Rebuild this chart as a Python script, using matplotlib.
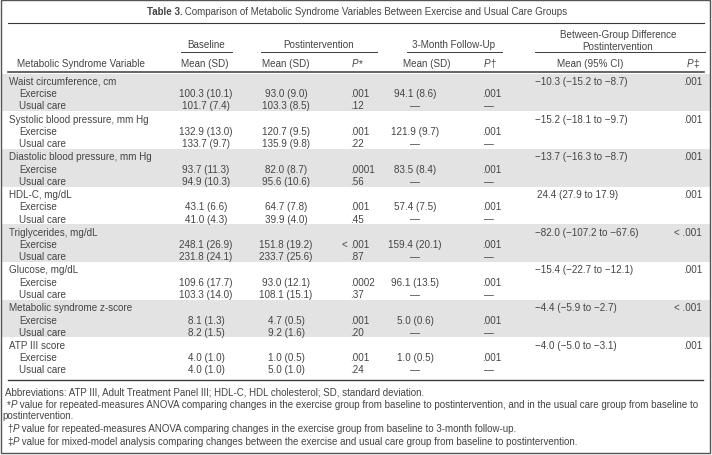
import matplotlib
matplotlib.use("Agg")
import matplotlib.pyplot as plt
from matplotlib import font_manager
from matplotlib.patches import Rectangle


# table data
variables = [
    "Waist circumference, cm",
    "Systolic blood pressure, mm Hg",
    "Diastolic blood pressure, mm Hg",
    "HDL-C, mg/dL",
    "Triglycerides, mg/dL",
    "Glucose, mg/dL",
    "Metabolic syndrome z-score",
    "ATP III score",
]
groups = ["Exercise", "Usual care"]

base_ex_mean = [100.3, 132.9, 93.7, 43.1, 248.1, 109.6, 8.1, 4.0]
base_ex_sd = [10.1, 13.0, 11.3, 6.6, 26.9, 17.7, 1.3, 1.0]
base_uc_mean = [101.7, 133.7, 94.9, 41.0, 231.8, 103.3, 8.2, 4.0]
base_uc_sd = [7.4, 9.7, 10.3, 4.3, 24.1, 14.0, 1.5, 1.0]

post_ex_mean = [93.0, 120.7, 82.0, 64.7, 151.8, 93.0, 4.7, 1.0]
post_ex_sd = [9.0, 9.5, 8.7, 7.8, 19.2, 12.1, 0.5, 0.5]
post_uc_mean = [103.3, 135.9, 95.6, 39.9, 233.7, 108.1, 9.2, 5.0]
post_uc_sd = [8.5, 9.8, 10.6, 4.0, 25.6, 15.1, 1.6, 1.0]
p_post_ex = [".001", ".001", ".0001", ".001", "< .001", ".0002", ".001", ".001"]
p_post_uc = [".12", ".22", ".56", ".45", ".87", ".37", ".20", ".24"]

fu_ex_mean = [94.1, 121.9, 83.5, 57.4, 159.4, 96.1, 5.0, 1.0]
fu_ex_sd = [8.6, 9.7, 8.4, 7.5, 20.1, 13.5, 0.6, 0.5]
p_fu_ex = [".001"] * 8

diff_mean = [-10.3, -15.2, -13.7, 24.4, -82.0, -15.4, -4.4, -4.0]
diff_lo = [-15.2, -18.1, -16.3, 27.9, -107.2, -22.7, -5.9, -5.0]
diff_hi = [-8.7, -9.7, -8.7, 17.9, -67.6, -12.1, -2.7, -3.1]
p_diff = [".001", ".001", ".001", ".001", "< .001", ".001", "< .001", ".001"]

title_bold = "Table 3."
title_rest = " Comparison of Metabolic Syndrome Variables Between Exercise and Usual Care Groups"
footnotes = [
    ("", "Abbreviations: ATP III, Adult Treatment Panel III; HDL-C, HDL cholesterol; SD, standard deviation."),
    ("*", " value for repeated-measures ANOVA comparing changes in the exercise group from baseline to "
          "postintervention, and in the usual care group from baseline to"),
    (None, "postintervention."),
    ("\u2020", " value for repeated-measures ANOVA comparing changes in the exercise group from baseline to "
               "3-month follow-up."),
    ("\u2021", " value for mixed-model analysis comparing changes between the exercise and usual care group "
               "from baseline to postintervention."),
]

plt.rcParams["font.family"] = ["Liberation Sans", "DejaVu Sans"]
names = {f.name for f in font_manager.fontManager.ttflist}
foot_family = ["Liberation Sans Narrow" if "Liberation Sans Narrow" in names else "Liberation Sans",
               "DejaVu Sans"]

TXT = "#444444"
LINE = "#3a3a3a"
BAND = "#e3e3e3"

fig = plt.figure(figsize=(7.12, 4.56), dpi=100)
ax = fig.add_axes([0, 0, 1, 1])
ax.set_xlim(0, 712)
ax.set_ylim(456, 0)
ax.axis("off")
renderer = fig.canvas.get_renderer()


def width(s, size, **kw):
    t = ax.text(0, 0, s + "|", fontsize=size, **kw)
    w1 = t.get_window_extent(renderer).width
    t.remove()
    t = ax.text(0, 0, "|", fontsize=size, **kw)
    w2 = t.get_window_extent(renderer).width
    t.remove()
    return w1 - w2


def fit(s, target, **kw):
    return 7 * target / width(s, 7, **kw)


def runs(x, y, parts, size, ha="left", **kw):
    ws = [width(s, size, **st, **kw) for s, st in parts]
    if ha == "center":
        x -= sum(ws) / 2
    elif ha == "right":
        x -= sum(ws)
    for (s, st), w in zip(parts, ws):
        ax.text(x, y, s, fontsize=size, va="center", ha="left", color=TXT, **st, **kw)
        x += w


def fmt(m, s):
    return f"{m:.1f} ({s:.1f})"


def neg(v):
    return f"{v:.1f}".replace("-", "\u2212")


def pval(x, y, p, size):
    # p values line up on the decimal point
    if p.startswith("<"):
        ax.text(x - 3, y, "<", fontsize=size, va="center", ha="right", color=TXT)
        p = p[1:].strip()
    ax.text(x, y, p, fontsize=size, va="center", ha="left", color=TXT)


fs = fit("Metabolic Syndrome Variable", 128)
fs_title = fit(title_bold + title_rest, 420)
fs_foot = fit(footnotes[1][0] + "P" + footnotes[1][1], 698, family=foot_family)

# frame
ax.add_patch(Rectangle((1, 1), 709, 453, fill=False, edgecolor="#555555", lw=1.0))

# title
runs(357, 12, [(title_bold, {"fontweight": "bold"}), (title_rest, {})], fs_title, ha="center")
ax.plot([8, 704], [23.5, 23.5], color=LINE, lw=0.8)

# spanning headers
gy = 44.5
ax.text(206, gy, "Baseline", fontsize=fs, ha="center", va="center", color=TXT)
ax.text(319, gy, "Postintervention", fontsize=fs, ha="center", va="center", color=TXT)
ax.text(454, gy, "3-Month Follow-Up", fontsize=fs, ha="center", va="center", color=TXT)
ax.text(618, 35.5, "Between-Group Difference", fontsize=fs, ha="center", va="center", color=TXT)
ax.text(618, 47, "Postintervention", fontsize=fs, ha="center", va="center", color=TXT)
for x0, x1 in [(181, 232), (261, 377), (407, 502), (535, 705)]:
    ax.plot([x0, x1], [53, 53], color=LINE, lw=0.7)

# column headers
hy = 64
ax.text(17, hy, "Metabolic Syndrome Variable", fontsize=fs, ha="left", va="center", color=TXT)
ax.text(205, hy, "Mean (SD)", fontsize=fs, ha="center", va="center", color=TXT)
ax.text(286, hy, "Mean (SD)", fontsize=fs, ha="center", va="center", color=TXT)
runs(352, hy, [("P", {"style": "italic"}), ("*", {})], fs)
ax.text(427, hy, "Mean (SD)", fontsize=fs, ha="center", va="center", color=TXT)
runs(484, hy, [("P", {"style": "italic"}), ("\u2020", {})], fs)
ax.text(590, hy, "Mean (95% CI)", fontsize=fs, ha="center", va="center", color=TXT)
runs(687, hy, [("P", {"style": "italic"}), ("\u2021", {})], fs)
ax.plot([8, 704], [72.5, 72.5], color=LINE, lw=1.1)

# body
top0, band_h = 74.5, 37.7
for i, var in enumerate(variables):
    top = top0 + i * band_h
    if i % 2 == 0:
        ax.add_patch(Rectangle((1.5, top), 708, band_h, color=BAND, lw=0, zorder=0))
    y0, y1, y2 = top + 7.5, top + 19.8, top + 32.0
    ax.text(9, y0, var, fontsize=fs, ha="left", va="center", color=TXT)
    ax.text(19, y1, groups[0], fontsize=fs, ha="left", va="center", color=TXT)
    ax.text(19, y2, groups[1], fontsize=fs, ha="left", va="center", color=TXT)

    ax.text(206, y1, fmt(base_ex_mean[i], base_ex_sd[i]), fontsize=fs, ha="center", va="center", color=TXT)
    ax.text(206, y2, fmt(base_uc_mean[i], base_uc_sd[i]), fontsize=fs, ha="center", va="center", color=TXT)
    ax.text(286, y1, fmt(post_ex_mean[i], post_ex_sd[i]), fontsize=fs, ha="center", va="center", color=TXT)
    ax.text(286, y2, fmt(post_uc_mean[i], post_uc_sd[i]), fontsize=fs, ha="center", va="center", color=TXT)
    pval(350, y1, p_post_ex[i], fs)
    pval(350, y2, p_post_uc[i], fs)
    ax.text(415, y1, fmt(fu_ex_mean[i], fu_ex_sd[i]), fontsize=fs, ha="center", va="center", color=TXT)
    ax.text(415, y2, "\u2014", fontsize=fs, ha="center", va="center", color=TXT)
    pval(482, y1, p_fu_ex[i], fs)
    ax.text(489, y2, "\u2014", fontsize=fs, ha="center", va="center", color=TXT)

    d = f"{neg(diff_mean[i])} ({neg(diff_lo[i])} to {neg(diff_hi[i])})"
    ax.text(535 if diff_mean[i] < 0 else 537, y0, d, fontsize=fs, ha="left", va="center", color=TXT)
    ax.text(702, y0, p_diff[i], fontsize=fs, ha="right", va="center", color=TXT)

ax.plot([8, 703], [381, 381], color=LINE, lw=1.0)

# footnotes
foot_y = [392.5, 405, 416.5, 429.5, 442]
for (mark, text), y in zip(footnotes, foot_y):
    if mark is None:
        runs(2, y, [(text, {})], fs_foot, family=foot_family)
    elif mark == "":
        runs(5, y, [(text, {})], fs_foot, family=foot_family)
    else:
        runs(7, y, [(mark, {}), ("P", {"style": "italic"}), (text, {})], fs_foot, family=foot_family)

fig.savefig("out.png", dpi=100)
plt.close(fig)
